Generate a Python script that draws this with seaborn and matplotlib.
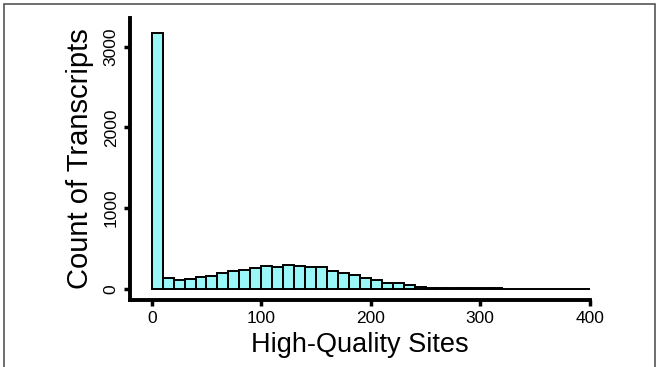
import numpy as np
import pandas as pd
import matplotlib
matplotlib.use("Agg")
import matplotlib.pyplot as plt
import seaborn as sns
from matplotlib.patches import Rectangle

# Histogram data (bin width 10, 0-400)
bin_left = list(range(0, 400, 10))
counts = [3170, 132, 111, 124, 149, 161, 194, 223, 227, 260,
          277, 265, 300, 281, 268, 268, 219, 198, 169, 132,
          107, 70, 70, 42, 20, 14, 10, 8, 6, 5,
          5, 4, 3, 3, 2, 2, 2, 1, 1, 1]
x_ticks = [0, 100, 200, 300, 400]
y_ticks = [0, 1000, 2000, 3000]

df = pd.DataFrame({"sites": [b + 5 for b in bin_left], "count": counts})

sns.set_style("white")
plt.rcParams["font.family"] = ["Liberation Sans", "DejaVu Sans"]
plt.rcParams["text.color"] = "black"
plt.rcParams["axes.labelcolor"] = "black"
plt.rcParams["xtick.color"] = "black"
plt.rcParams["ytick.color"] = "black"

fig = plt.figure(figsize=(6.59, 3.67), dpi=100)
ax = fig.add_axes([0.197, 0.183, 0.698, 0.768])

sns.histplot(data=df, x="sites", weights="count", binwidth=10, binrange=(0, 400),
             color="#9af7f7", alpha=1, edgecolor="black", linewidth=1.4, ax=ax)

ax.set_xlim(-20, 400)
ax.set_ylim(-137, 3358)
ax.set_xticks(x_ticks)
ax.set_yticks(y_ticks)
ax.set_yticklabels([str(v) for v in y_ticks], rotation=90, va="center")
ax.tick_params(axis="both", bottom=True, left=True, direction="out", length=4.5,
               width=2.5, labelsize=12.5, pad=3.5)

for side in ["top", "right"]:
    ax.spines[side].set_visible(False)
for side in ["left", "bottom"]:
    ax.spines[side].set_linewidth(2.8)
    ax.spines[side].set_color("black")

ax.set_xlabel("High-Quality Sites", fontsize=19.5, labelpad=4)
ax.set_ylabel("Count of Transcripts", fontsize=21, labelpad=7)

# gray frame around the panel
fig.patches.append(Rectangle((0.006, -0.05), 0.988, 1.038, transform=fig.transFigure,
                             fill=False, edgecolor="#555555", linewidth=1.2))

fig.savefig("out.png", dpi=100)
